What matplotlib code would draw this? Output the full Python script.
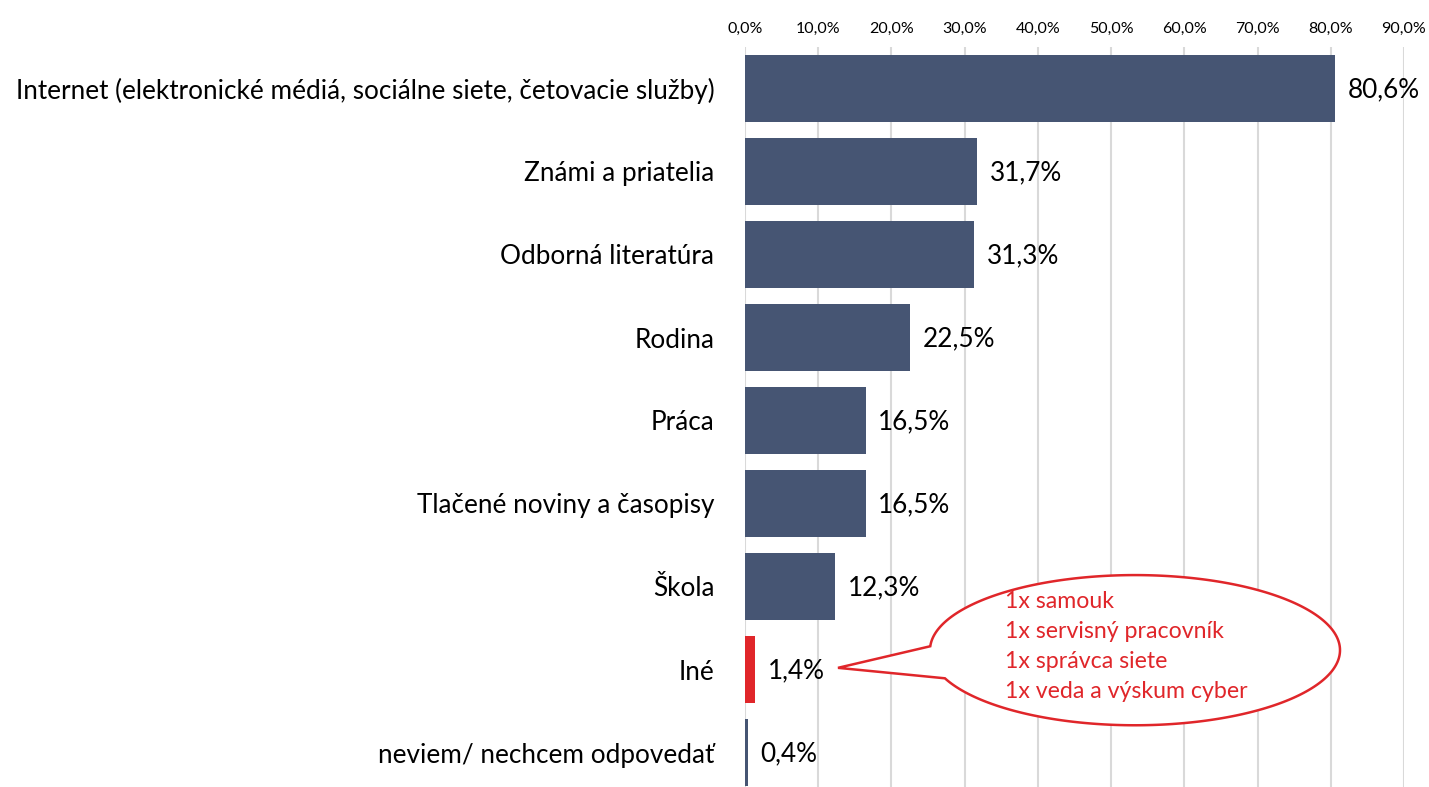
import numpy as np
import matplotlib
matplotlib.use("Agg")
import matplotlib.pyplot as plt
from matplotlib.patches import Polygon

categories = [
    "Internet (elektronické médiá, sociálne siete, četovacie služby)",
    "Známi a priatelia",
    "Odborná literatúra",
    "Rodina",
    "Práca",
    "Tlačené noviny a časopisy",
    "Škola",
    "Iné",
    "neviem/ nechcem odpovedať",
]
values = [80.6, 31.7, 31.3, 22.5, 16.5, 16.5, 12.3, 1.4, 0.4]
value_labels = ["80,6%", "31,7%", "31,3%", "22,5%", "16,5%", "16,5%", "12,3%", "1,4%", "0,4%"]
tick_values = [0, 10, 20, 30, 40, 50, 60, 70, 80, 90]
tick_labels = ["0,0%", "10,0%", "20,0%", "30,0%", "40,0%", "50,0%", "60,0%", "70,0%", "80,0%", "90,0%"]
callout_lines = ["1x samouk", "1x servisný pracovník", "1x správca siete", "1x veda a výskum cyber"]

BLUE = "#465573"
RED = "#E0262A"
colors = [BLUE] * len(values)
colors[7] = RED

plt.rcParams['font.family'] = ['Lato', 'DejaVu Sans']

W, H = 1429, 787
fig = plt.figure(figsize=(W / 100, H / 100), dpi=100)
ax_left, ax_right, ax_top = 745 / W, 1404 / W, 1 - 47 / H
ax_bottom = 1 - 794 / H
ax = fig.add_axes([ax_left, ax_bottom, ax_right - ax_left, ax_top - ax_bottom])

y = np.arange(len(categories))
ax.barh(y, values, height=0.81, color=colors, zorder=3)
ax.set_xlim(0, 90)
ax.set_ylim(len(categories) - 0.5, -0.5)

ax.xaxis.tick_top()
ax.set_xticks(tick_values)
ax.set_xticklabels(tick_labels, fontsize=11.5)
ax.tick_params(axis='x', length=0, pad=8)
ax.set_yticks(y)
ax.set_yticklabels(categories, fontsize=18.8)
ax.tick_params(axis='y', length=0, pad=22)
ax.grid(axis='x', color='#d9d9d9', linewidth=1.5, zorder=0)
for s in ax.spines.values():
    s.set_visible(False)

for yi, v, lab in zip(y, values, value_labels):
    ax.annotate(lab, xy=(v, yi), xytext=(9, -1), textcoords='offset points',
                va='center', ha='left', fontsize=18.8, color='black')

# callout bubble (pixel-space geometry converted to data coordinates)
px_per_x = (1404 - 745) / 90.0
px_per_y = 82.9
def to_data(px, py):
    return ((px - 745) / px_per_x, (py - 89) / px_per_y)

cx, cy, a, b = 1135, 650, 205, 75
t = np.radians(np.linspace(183, 518, 300))
pts = [to_data(cx + a * np.cos(tt), cy + b * np.sin(tt)) for tt in t]
tip_x = values[7] + 11.3
tip = (tip_x, 7 - 0.02)
pts.append(tip)
bubble = Polygon(pts, closed=True, facecolor='white', edgecolor=RED, linewidth=1.8, zorder=4)
ax.add_patch(bubble)

for i, line in enumerate(callout_lines):
    lx, ly = to_data(1005, 608 + 30 * i)
    ax.text(lx, ly, line, color=RED, fontsize=16.7, ha='left', va='baseline', zorder=5)

fig.savefig("out.png", dpi=100)
